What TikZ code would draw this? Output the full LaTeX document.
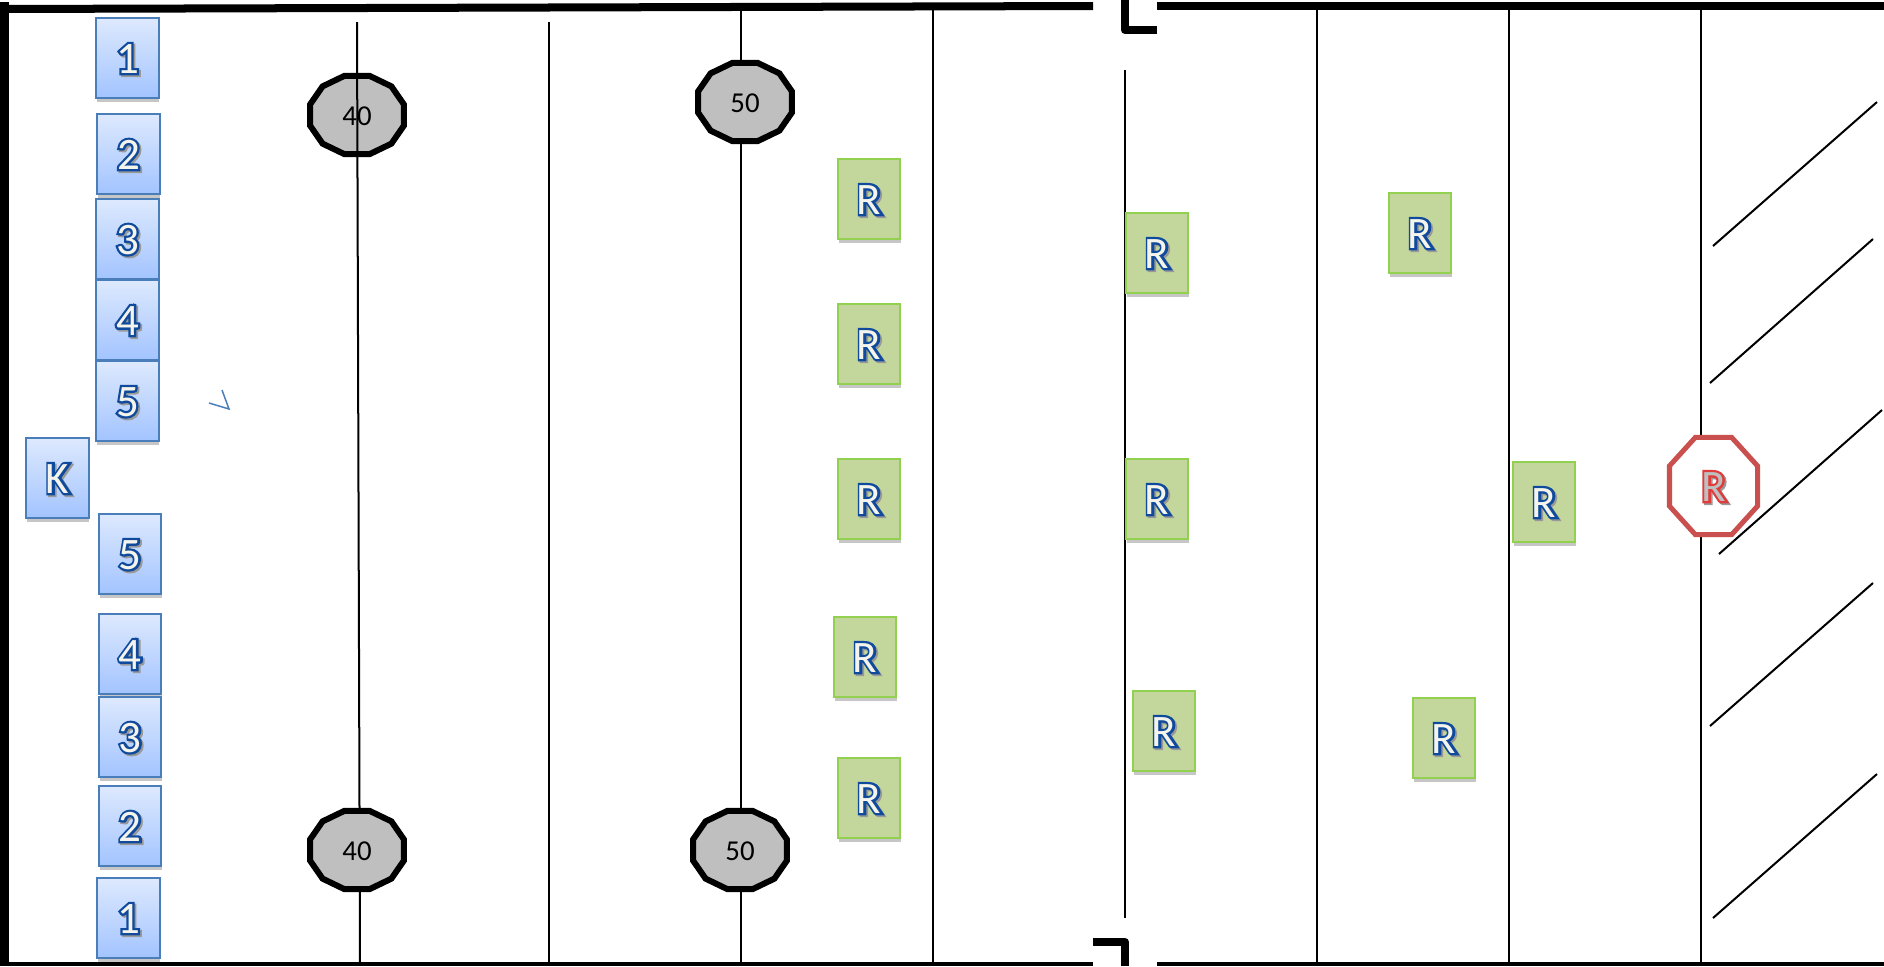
\documentclass[tikz,border=0pt]{standalone}
\usepackage{fontspec}
\usepackage{xcolor}
\usetikzlibrary{shapes.geometric,shadows}
\setmainfont{Carlito}
\newfontfamily\fatfont[FakeBold=10]{Carlito}
\definecolor{tileline}{HTML}{4A7EBB}
\definecolor{tiletop}{HTML}{DDE9FE}
\definecolor{tilebot}{HTML}{A3C4FF}
\definecolor{rookfill}{HTML}{C3D69B}
\definecolor{rookline}{HTML}{92D050}
\definecolor{inkblue}{HTML}{0F4A9C}
\definecolor{inkcream}{HTML}{F4F4EC}
\definecolor{inkred}{HTML}{E03C3C}
\definecolor{stopred}{HTML}{C9504E}

% Letter with coloured rim: #1=rim, #2=inside, #3=text
\newcommand{\rimmed}[3]{%
    \raisebox{-4.3pt}[0pt][0pt]{%
    \rlap{\raisebox{-0.5pt}{\hspace{0.5pt}\fatfont\color{black!40}#3}}%
    \rlap{\fatfont\color{#1}#3}%
    {\color{#2}#3}}%
}

\begin{document}
\begin{tikzpicture}[
    x=0.01cm, y=-0.01cm,
    wall/.style={line width=0.08cm, line join=round},
    lane/.style={line width=0.02cm},
    tile/.style={draw=tileline, line width=0.02cm, top color=tiletop, bottom color=tilebot,
                 minimum width=0.62cm, minimum height=0.79cm, inner sep=0pt,
                 font=\fontsize{12.8}{14}\selectfont,
                 drop shadow={shadow xshift=0.2pt, shadow yshift=-1.4pt, opacity=0.45}},
    rook/.style={draw=rookline, line width=0.02cm, fill=rookfill,
                 minimum width=0.62cm, minimum height=0.79cm, inner sep=0pt,
                 font=\fontsize{12.8}{14}\selectfont,
                 drop shadow={shadow xshift=0.2pt, shadow yshift=-1.4pt, opacity=0.45}},
    post/.style={draw=black, line width=0.06cm, fill=black!25, regular polygon,
                 regular polygon sides=12, minimum size=0.81cm, inner sep=0pt,
                 outer sep=0pt, xscale=1.2, transform shape},
    postlbl/.style={font=\fontsize{8.2}{10}\selectfont, inner sep=0pt, yshift=-0.4pt},
    hatch/.style={line width=0.02cm}
]
\useasboundingbox (0,0) rectangle (1884,966);

% Outer walls
\draw[line width=0.09cm] (4.5,2) -- (4.5,966);
\draw[wall] (0,9) -- (1093,6);
\draw[wall] (1157,6) -- (1884,6);
\draw[line width=0.045cm] (0,964) -- (1093,964);
\draw[line width=0.045cm] (1157,964) -- (1884,964);

% Gap corners
\draw[wall] (1125,0) -- (1125,30) -- (1157,30);
\draw[wall] (1093,942) -- (1125,942) -- (1125,966);

% Posts, the first one sits under its line
\node[post] (post40a) at (357,115) {};
\draw[lane] (357,22) -- (360,964);
\foreach \x/\y in {549/22, 741/3, 933/8, 1317/8, 1509/8, 1701/8}
    \draw[lane] (\x,\y) -- (\x,964);
\draw[lane] (1125,70) -- (1125,918);

\node[post] (post50a) at (745,102) {};
\node[post] (post40b) at (357,850) {};
\node[post] (post50b) at (740,850) {};
\node[postlbl] at (post40a) {40};
\node[postlbl] at (post50a) {50};
\node[postlbl] at (post40b) {40};
\node[postlbl] at (post50b) {50};

% Number tiles, upper and lower row
\foreach \n/\x/\y in {1/127.5/58, 2/128.5/154, 3/127.5/239, 4/127.5/320, 5/127.5/401}
    \node[tile] (up\n) at (\x,\y) {\rimmed{inkblue}{inkcream}{\n}};
\foreach \n/\x/\y in {5/130/554, 4/130/654, 3/130/737, 2/130/826, 1/128.5/918}
    \node[tile] (low\n) at (\x,\y) {\rimmed{inkblue}{inkcream}{\n}};
\node[tile] (king) at (57.5,478) {\rimmed{inkblue}{inkcream}{K}};

% Small mark
\draw[tileline, line width=0.015cm] (222,390) -- (229,409) -- (209,403);

% R tiles
\foreach \i/\x/\y in {1/869/199, 2/869/344, 3/869/499, 4/865/657, 5/869/798,
                      6/1157/253, 7/1157/499, 8/1164/731,
                      9/1420/233, 10/1544/502, 11/1444/738}
    \node[rook] (rook\i) at (\x,\y) {\rimmed{inkblue}{inkcream}{R}};

% Red stop shape
\node[draw=stopred, line width=0.05cm, fill=white, regular polygon, regular polygon sides=8,
      minimum size=1.05cm, inner sep=0pt, outer sep=0pt, xscale=0.907, transform shape]
      (stopr) at (1713.5,486) {};
\node[font=\fontsize{12.8}{14}\selectfont, inner sep=0pt] at (stopr)
      {\rimmed{inkred}{black!25}{R}};

% Parking hatch
\foreach \xa/\ya/\xb/\yb in {1713/246/1877/102, 1710/383/1873/239, 1719/554/1882/410,
                             1710/726/1873/583, 1713/918/1877/774}
    \draw[hatch] (\xa,\ya) -- (\xb,\yb);

\end{tikzpicture}
\end{document}
